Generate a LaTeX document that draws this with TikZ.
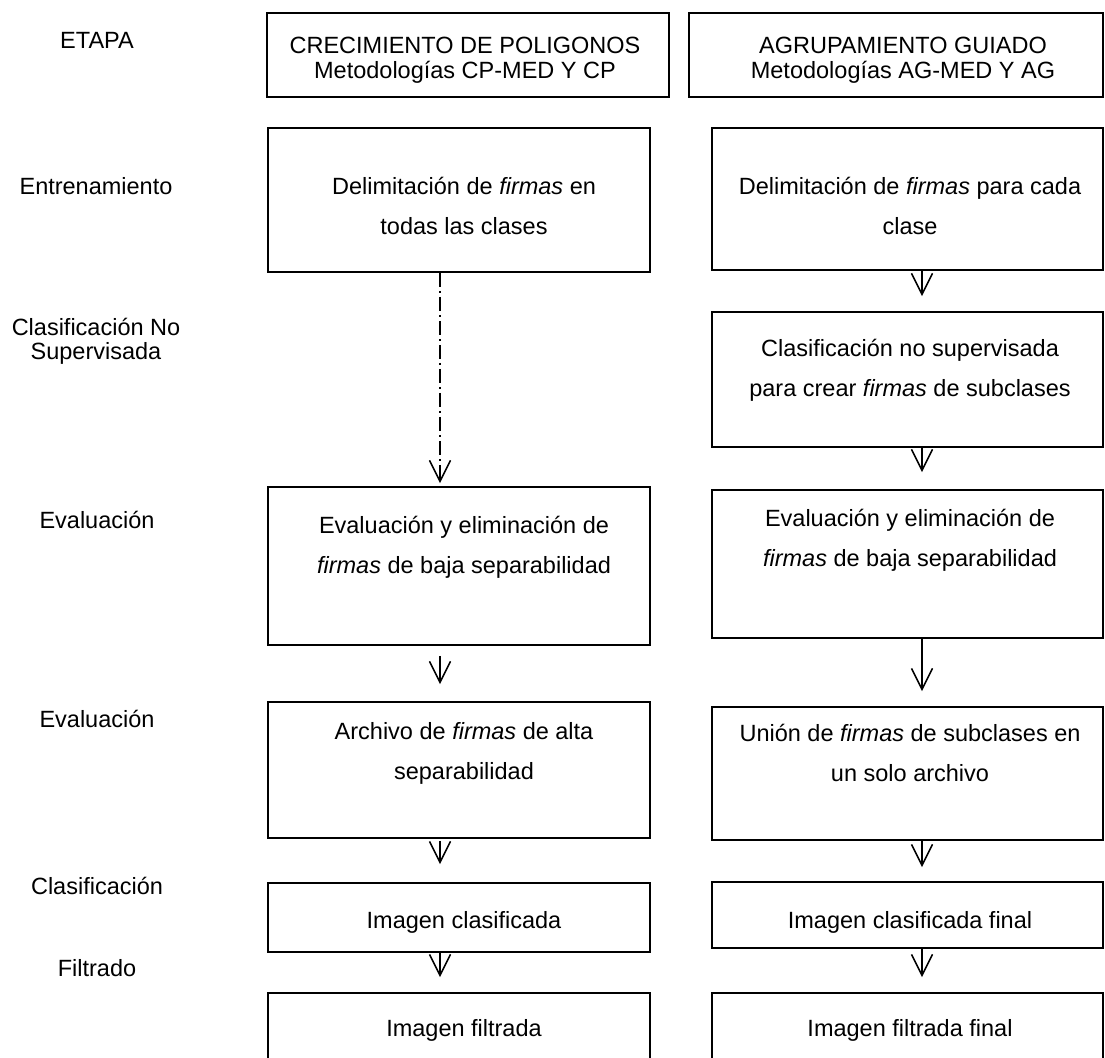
\documentclass[tikz,border=0pt]{standalone}
\usepackage{fontspec}
\setmainfont{Liberation Sans}
\usetikzlibrary{arrows.meta}

\begin{document}
\begin{tikzpicture}[
    x=1pt, y=-1pt,
    caja/.style={draw, line width=1.7pt, inner sep=0pt},
    cajaizq/.style={caja, minimum width=382pt},
    cajader/.style={caja, minimum width=391pt},
    texto/.style={align=center, inner sep=0pt, font=\fontsize{23.5}{40}\selectfont},
    cabecera/.style={align=center, inner sep=0pt, font=\fontsize{23.5}{25}\selectfont},
    etiqueta/.style={align=center, inner sep=0pt, font=\fontsize{23.5}{24}\selectfont},
    flecha/.style={line width=1.6pt, -{Straight Barb[length=21pt, width=21pt, line width=1.6pt]}},
    puntos/.style={flecha, line width=1.2pt, dash pattern=on 14pt off 4pt on 2pt off 4pt}
    ]
    \useasboundingbox (0,0) rectangle (1105,1057);
    % columnas de las flechas
    \coordinate (colL) at (440,0);
    \coordinate (colR) at (922,0);
    % etapas
    \node[etiqueta] (etapa) at (97,40) {ETAPA};
    \node[etiqueta] (entren) at (96,186) {Entrenamiento};
    \node[etiqueta] (nosup) at (96,341) {Clasificación No\\Supervisada};
    \node[etiqueta] (eval1) at (97,520) {Evaluación};
    \node[etiqueta] (eval2) at (97,719) {Evaluación};
    \node[etiqueta] (clasif) at (97,886) {Clasificación};
    \node[etiqueta] (filtr) at (97,968) {Filtrado};
    % cabeceras
    \node[caja, minimum width=402pt, minimum height=84pt] (cabL) at (468,55) {};
    \node[cabecera] (cabLt) at (465,60) {CRECIMIENTO DE POLIGONOS\\Metodologías CP-MED Y CP};
    \node[caja, minimum width=414pt, minimum height=84pt] (cabR) at (896,55) {};
    \node[cabecera] (cabRt) at (903,60) {AGRUPAMIENTO GUIADO\\Metodologías AG-MED Y AG};
    % columna izquierda
    \node[cajaizq, minimum height=144pt] (l1) at (459,200) {};
    \node[texto] (l1t) at (464,206) {Delimitación de \textit{firmas} en\\todas las clases};
    \node[cajaizq, minimum height=158pt] (l2) at (459,566) {};
    \node[texto] (l2t) at (464,547) {Evaluación y eliminación de\\\textit{firmas} de baja separabilidad};
    \node[cajaizq, minimum height=136pt] (l3) at (459,770) {};
    \node[texto] (l3t) at (464,753) {Archivo de \textit{firmas} de alta\\separabilidad};
    \node[cajaizq, minimum height=69pt] (l4) at (459,917.5) {};
    \node[texto] (l4t) at (464,922) {Imagen clasificada};
    \node[cajaizq, minimum height=100pt] (l5) at (459,1043) {};
    \node[texto] (l5t) at (464,1030) {Imagen filtrada};
    % columna derecha
    \node[cajader, minimum height=142pt] (r1) at (907.5,199) {};
    \node[texto] (r1t) at (910,206) {Delimitación de \textit{firmas} para cada\\clase};
    \node[cajader, minimum height=135pt] (r2) at (907.5,379.5) {};
    \node[texto] (r2t) at (910,370) {Clasificación no supervisada\\para crear \textit{firmas} de subclases};
    \node[cajader, minimum height=148pt] (r3) at (907.5,564) {};
    \node[texto] (r3t) at (910,540) {Evaluación y eliminación de\\\textit{firmas} de baja separabilidad};
    \node[cajader, minimum height=133pt] (r4) at (907.5,773.5) {};
    \node[texto] (r4t) at (910,753) {Unión de \textit{firmas} de subclases en\\un solo archivo};
    \node[cajader, minimum height=66pt] (r5) at (907.5,915) {};
    \node[texto] (r5t) at (910,922) {Imagen clasificada final};
    \node[cajader, minimum height=100pt] (r6) at (907.5,1043) {};
    \node[texto] (r6t) at (910,1030) {Imagen filtrada final};
    % flechas
    \draw[puntos, shorten >=3pt] (l1.south -| colL) -- (l2.north -| colL);
    \draw[flecha, shorten <=10pt, shorten >=17pt] (l2.south -| colL) -- (l3.north -| colL);
    \draw[flecha, shorten <=2pt, shorten >=18pt] (l3.south -| colL) -- (l4.north -| colL);
    \draw[flecha, shorten >=15pt] (l4.south -| colL) -- (l5.north -| colL);
    \draw[flecha, shorten >=15pt] (r1.south -| colR) -- (r2.north -| colR);
    \draw[flecha, shorten >=17pt] (r2.south -| colR) -- (r3.north -| colR);
    \draw[flecha, shorten >=15pt] (r3.south -| colR) -- (r4.north -| colR);
    \draw[flecha, shorten >=14pt] (r4.south -| colR) -- (r5.north -| colR);
    \draw[flecha, shorten >=15pt] (r5.south -| colR) -- (r6.north -| colR);
\end{tikzpicture}
\end{document}
